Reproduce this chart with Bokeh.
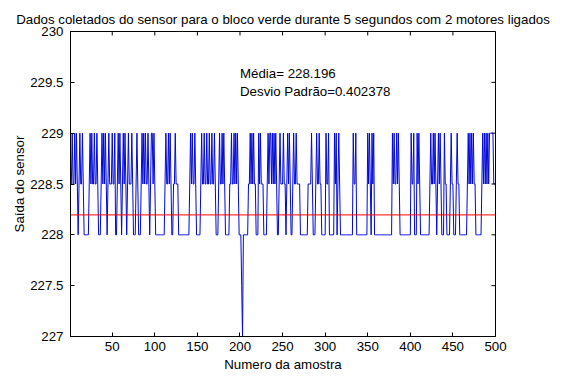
import numpy as np
from bokeh.plotting import figure
from bokeh.models import Range1d, FixedTicker, NumeralTickFormatter, Label
from bokeh.embed import file_html
from bokeh.resources import INLINE

# ---- data ----
n_samples = 500
baseline_level = 228.0
# code letters for the sensor levels seen in the trace
level_code = {"0": 228.0, "1": 228.5, "2": 229.0, "a": 227.0, "b": 227.5}
# bursts of activity: first sample index and the level codes that follow
burst_start = [1, 23, 112, 141, 154, 202, 210, 222, 232, 246, 255, 262, 280, 289,
               301, 311, 333, 350, 379, 401, 408, 423, 440, 447, 454, 467, 484]
burst_code = [
    "1121121210121121",
    "1212112112" "1000121212" "1012111211" "2001212101" "2121012111"
    "2100012100" "0121212112" "10122121",
    "1211212100112111",
    "12121121",
    "1211211211" "2112112100" "0121121210" "0000112112" "12121",
    "ba",
    "112121211",
    "212111",
    "121221212121",
    "12111211",
    "12121",
    "121121111",
    "111121",
    "1211211",
    "2112",
    "2120121",
    "2112",
    "21210212",
    "212112121",
    "2112",
    "2121",
    "12112121012121",
    "211",
    "1211",
    "1211",
    "1212121211",
    "12121212122222111",
]
mean_value = 228.196
std_value = 0.402378
x_ticks = [50, 100, 150, 200, 250, 300, 350, 400, 450, 500]
y_ticks = [227, 227.5, 228, 228.5, 229, 229.5, 230]

title_text = "Dados coletados do sensor para o bloco verde durante 5 segundos com 2 motores ligados"
x_label = "Numero da amostra"
y_label = "Saída do sensor"
note_text = "Média= 228.196\nDesvio Padrão=0.402378"

# ---- build series ----
samples = np.arange(1, n_samples + 1)
values = np.full(n_samples, baseline_level)
for start, code in zip(burst_start, burst_code):
    for k, ch in enumerate(code):
        values[start - 1 + k] = level_code[ch]

FONT = "Liberation Sans"
FS = "13.3px"
X0, X1 = 1, 500
Y0, Y1 = 227, 230

p = figure(width=560, height=375, output_backend="svg", toolbar_location=None,
           x_range=Range1d(X0, X1), y_range=Range1d(Y0, Y1),
           min_border_left=70, min_border_right=65, min_border_top=31,
           min_border_bottom=39)
p.background_fill_color = "white"
p.border_fill_color = "white"
p.outline_line_color = "black"
p.outline_line_width = 1
p.xgrid.visible = False
p.ygrid.visible = False

p.title.text = title_text
p.title.text_font = FONT
p.title.text_font_size = FS
p.title.text_font_style = "normal"
p.title.text_color = "black"
p.title.align = "center"
p.title.standoff = 9

p.line(samples, values, line_color="#0008d8", line_width=1)
p.line([X0, X1], [mean_value, mean_value], line_color="#ff0000", line_width=1)

# inner ticks on the top and right edges of the box
p.ray(x=x_ticks, y=[Y1] * len(x_ticks), length=4, length_units="screen",
      angle=-np.pi / 2, line_color="black", line_width=1)
p.ray(x=[X1] * len(y_ticks), y=y_ticks, length=4, length_units="screen",
      angle=np.pi, line_color="black", line_width=1)

for ax in p.below + p.left:
    ax.major_tick_in = 4
    ax.major_tick_out = 0
    ax.minor_tick_in = 0
    ax.minor_tick_out = 0
    ax.axis_line_color = "black"
    ax.major_tick_line_color = "black"
    ax.major_label_text_font = FONT
    ax.major_label_text_font_size = FS
    ax.major_label_text_color = "black"
    ax.axis_label_text_font = FONT
    ax.axis_label_text_font_size = FS
    ax.axis_label_text_font_style = "normal"
    ax.axis_label_text_color = "black"

for ax in p.below:
    ax.ticker = FixedTicker(ticks=x_ticks)
    ax.axis_label = x_label
    ax.major_label_standoff = 5
    ax.axis_label_standoff = 3
for ax in p.left:
    ax.ticker = FixedTicker(ticks=y_ticks)
    ax.axis_label = y_label
    ax.major_label_standoff = 7
    ax.axis_label_standoff = 0
    ax.formatter = NumeralTickFormatter(format="0.[0]")

note = Label(x=200, y=229.5, text=note_text, text_font=FONT, text_font_size=FS,
             text_baseline="middle", text_align="left", text_color="black")
p.add_layout(note)

open("out.html", "w").write(file_html(p, INLINE))
